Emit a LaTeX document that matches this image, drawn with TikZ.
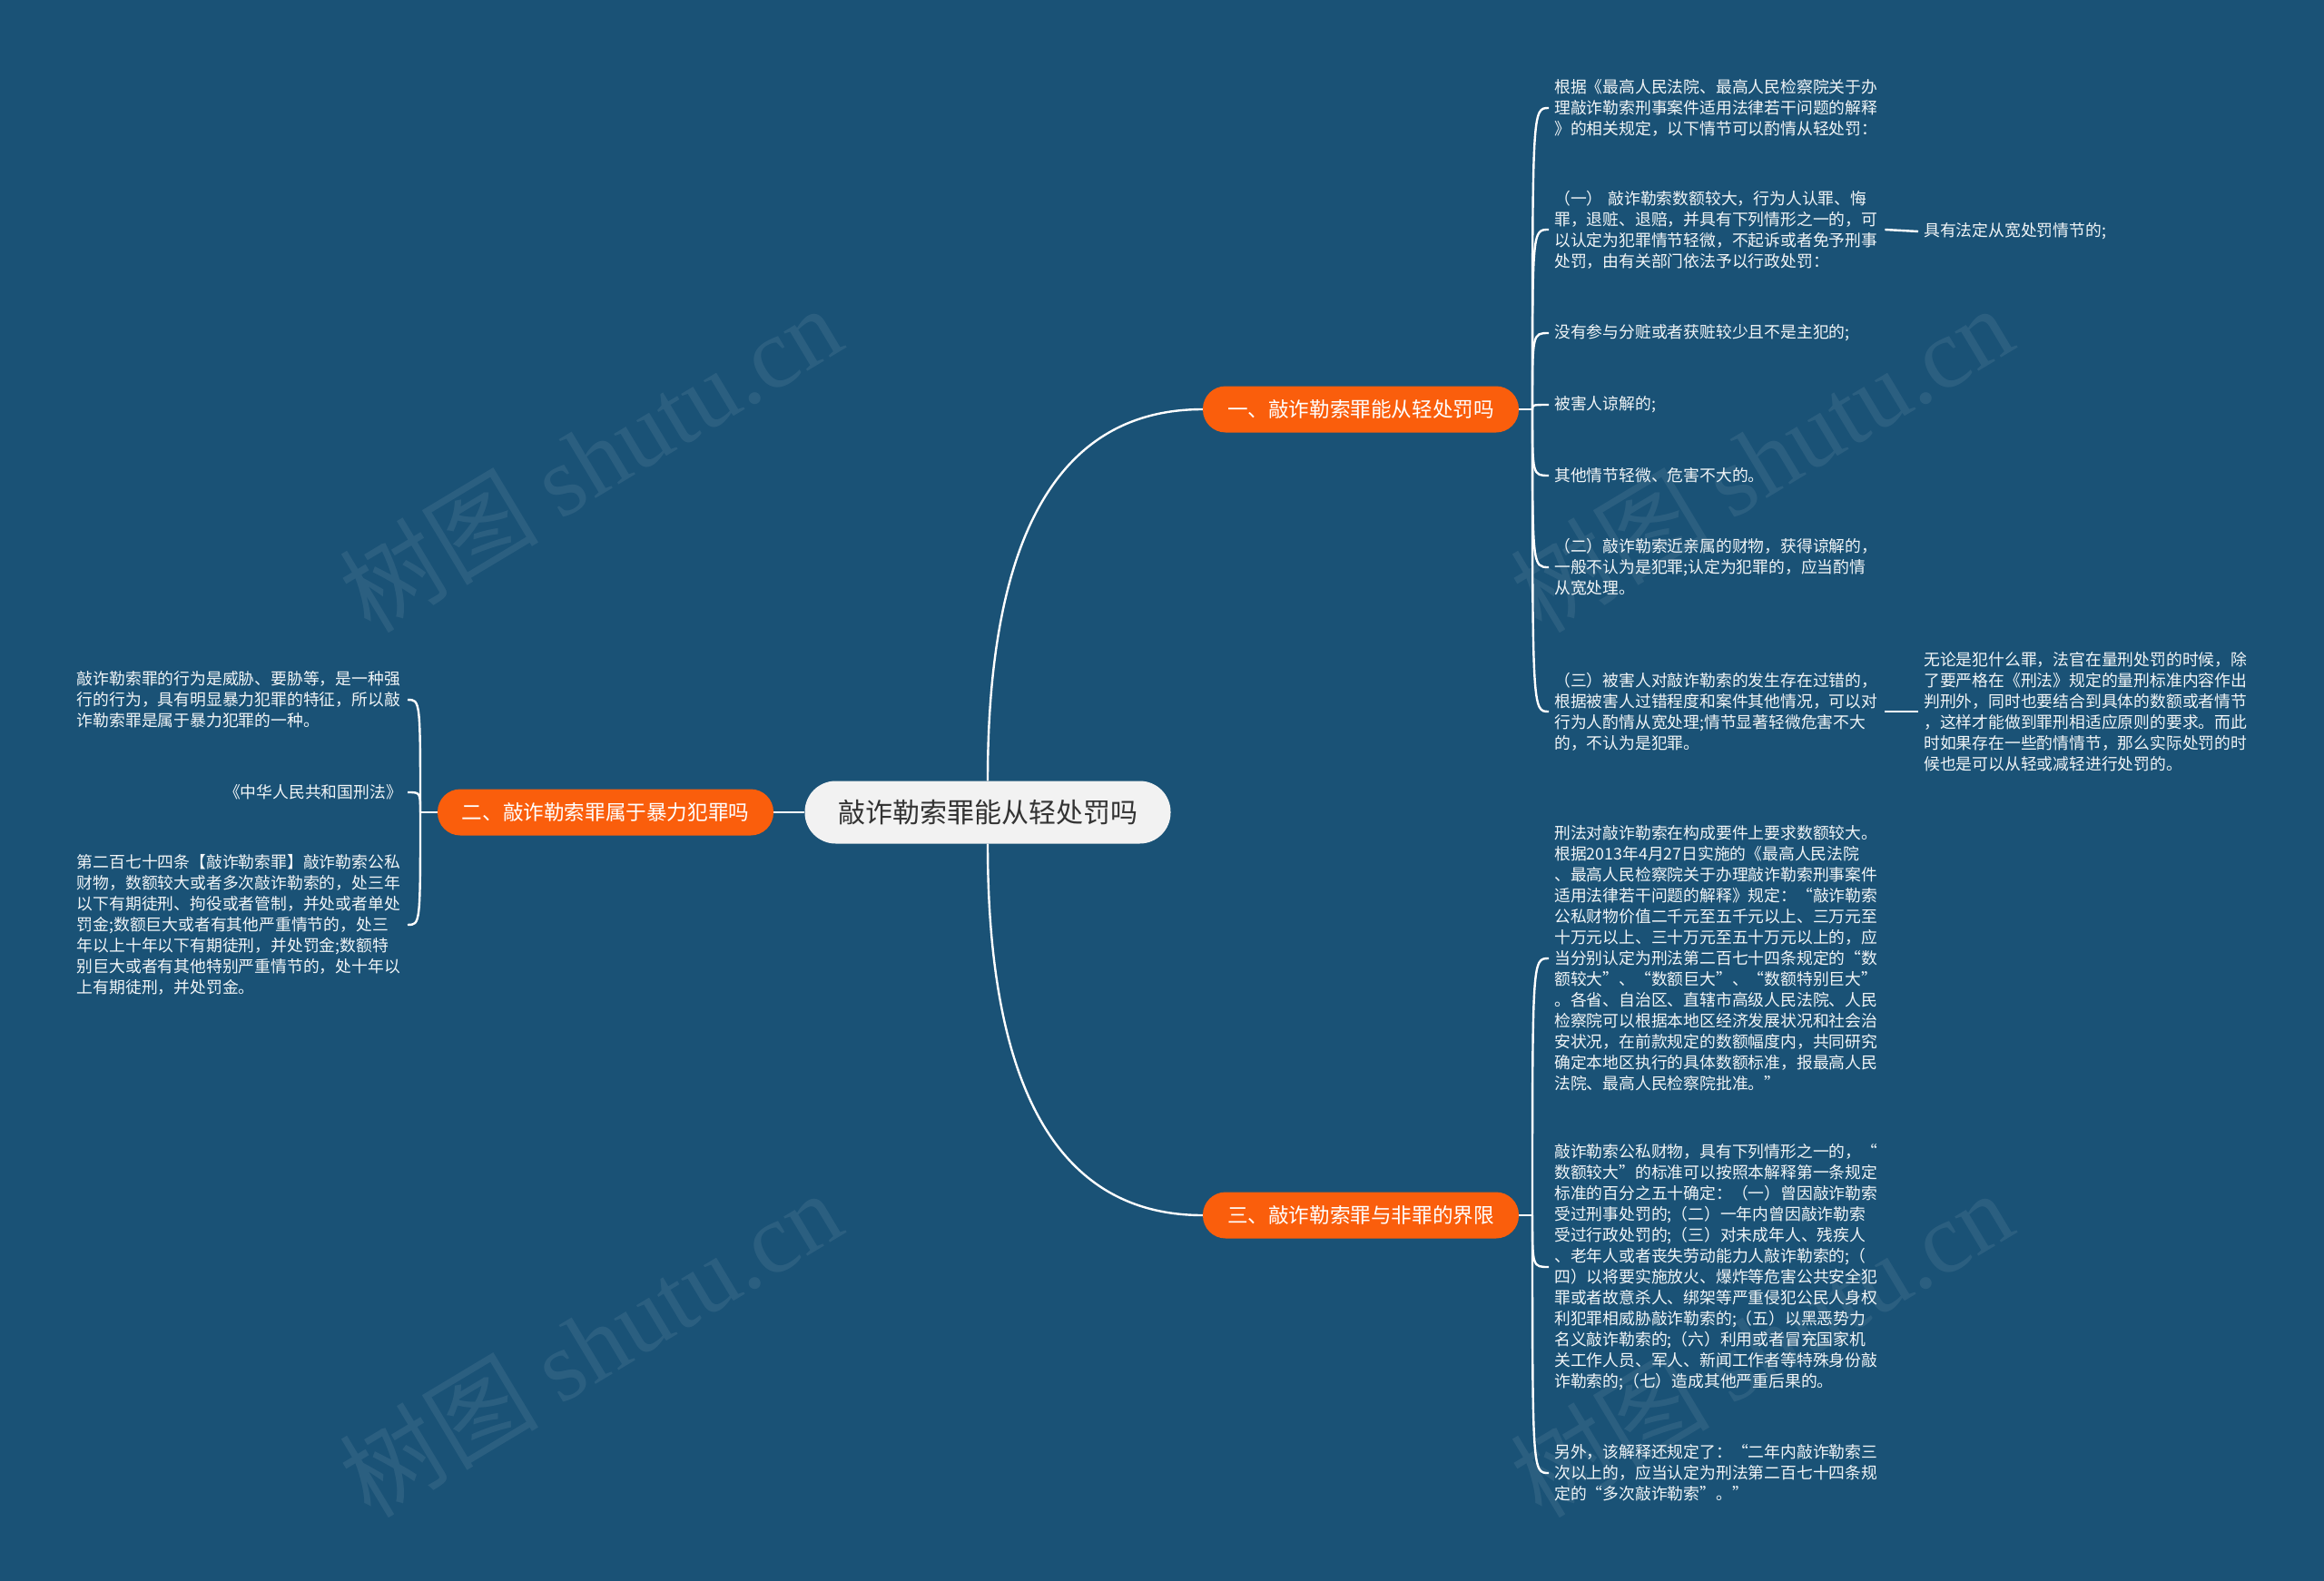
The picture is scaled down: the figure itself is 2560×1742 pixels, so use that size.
\documentclass[tikz,border=0pt]{standalone}
\usepackage{fontspec}
\setmainfont{Noto Sans CJK SC}
\newfontfamily\wmlatin{Liberation Serif}
\usepackage{xcolor}
\usetikzlibrary{positioning, calc}
\definecolor{mapBlue}{HTML}{1A5276}
\definecolor{mapOrange}{HTML}{FA5E0C}
\definecolor{mapRoot}{HTML}{F2F2F2}
\definecolor{mapDark}{HTML}{333333}
\newcommand{\leaffont}{\fontsize{17.8}{23}\selectfont}
\tikzset{
  rootbox/.style={rounded corners=34pt, fill=mapRoot, text=mapDark,
    minimum width=403pt, minimum height=69pt, inner sep=0pt,
    font=\fontsize{30}{34}\selectfont},
  branchbox/.style={rounded corners=25pt, fill=mapOrange, text=white,
    minimum width=348pt, minimum height=51pt, inner sep=0pt,
    font=\fontsize{22.6}{26}\selectfont},
  leafbox/.style={text=white!94!mapBlue, font=\leaffont, align=left,
    text width=358pt, inner xsep=6pt, inner ysep=2pt},
  shortleaf/.style={text=white!94!mapBlue, font=\leaffont,
    inner xsep=6pt, inner ysep=2pt},
  link/.style={draw=white, line width=2.4pt},
  watermark/.style={rotate=31, text=white, opacity=0.08,
    font=\fontsize{110}{110}\selectfont},
}

\begin{document}
\begin{tikzpicture}[x=1pt, y=-1pt]
  \fill[mapBlue] (0,0) rectangle (2560,1742);
  \useasboundingbox (0,0) rectangle (2560,1742);

  % watermarks
  \node[watermark] (wm1) at (650,505) {树图 {\wmlatin shutu.cn}};
  \node[watermark] (wm2) at (1940,505) {树图 {\wmlatin shutu.cn}};
  \node[watermark] (wm3) at (650,1480) {树图 {\wmlatin shutu.cn}};
  \node[watermark] (wm4) at (1940,1480) {树图 {\wmlatin shutu.cn}};

  % centre and main branches
  \node[rootbox] (root) at (1088,895) {敲诈勒索罪能从轻处罚吗};
  \node[branchbox] (b1) at (1499,451) {一、敲诈勒索罪能从轻处罚吗};
  \node[branchbox, minimum width=370pt] (b2) at (667,895) {二、敲诈勒索罪属于暴力犯罪吗};
  \node[branchbox] (b3) at (1499,1339) {三、敲诈勒索罪与非罪的界限};

  \coordinate (t1) at (1688,451);
  \coordinate (t2) at (463,895);
  \coordinate (t3) at (1688,1339);

  % branch one
  \node[leafbox, anchor=west] (l1) at (1706,119) {根据《最高人民法院、最高人民检察院关于办\\理敲诈勒索刑事案件适用法律若干问题的解释\\》的相关规定，以下情节可以酌情从轻处罚：};
  \node[leafbox, anchor=west] (l2) at (1706,253) {（一） 敲诈勒索数额较大，行为人认罪、悔\\罪，退赃、退赔，并具有下列情形之一的，可\\以认定为犯罪情节轻微，不起诉或者免予刑事\\处罚，由有关部门依法予以行政处罚：};
  \node[shortleaf, anchor=west] (s2) at (2113,255) {具有法定从宽处罚情节的;};
  \node[leafbox, anchor=west] (l3) at (1706,367) {没有参与分赃或者获赃较少且不是主犯的;};
  \node[leafbox, anchor=west] (l4) at (1706,446) {被害人谅解的;};
  \node[leafbox, anchor=west] (l5) at (1706,524) {其他情节轻微、危害不大的。};
  \node[leafbox, anchor=west] (l6) at (1706,625) {（二）敲诈勒索近亲属的财物，获得谅解的，\\一般不认为是犯罪;认定为犯罪的，应当酌情\\从宽处理。};
  \node[leafbox, anchor=west] (l7) at (1706,784) {（三）被害人对敲诈勒索的发生存在过错的，\\根据被害人过错程度和案件其他情况，可以对\\行为人酌情从宽处理;情节显著轻微危害不大\\的，不认为是犯罪。};
  \node[leafbox, anchor=west] (s7) at (2113,784) {无论是犯什么罪，法官在量刑处罚的时候，除\\了要严格在《刑法》规定的量刑标准内容作出\\判刑外，同时也要结合到具体的数额或者情节\\，这样才能做到罪刑相适应原则的要求。而此\\时如果存在一些酌情情节，那么实际处罚的时\\候也是可以从轻或减轻进行处罚的。};

  % branch two
  \node[leafbox, anchor=east] (a1) at (449,771) {敲诈勒索罪的行为是威胁、要胁等，是一种强\\行的行为，具有明显暴力犯罪的特征，所以敲\\诈勒索罪是属于暴力犯罪的一种。};
  \node[shortleaf, anchor=east] (a2) at (449,873) {《中华人民共和国刑法》};
  \node[leafbox, anchor=east] (a3) at (449,1019) {第二百七十四条【敲诈勒索罪】敲诈勒索公私\\财物，数额较大或者多次敲诈勒索的，处三年\\以下有期徒刑、拘役或者管制，并处或者单处\\罚金;数额巨大或者有其他严重情节的，处三\\年以上十年以下有期徒刑，并处罚金;数额特\\别巨大或者有其他特别严重情节的，处十年以\\上有期徒刑，并处罚金。};

  % branch three
  \node[leafbox, anchor=west] (m1) at (1706,1056) {刑法对敲诈勒索在构成要件上要求数额较大。\\根据2013年4月27日实施的《最高人民法院\\、最高人民检察院关于办理敲诈勒索刑事案件\\适用法律若干问题的解释》规定：“敲诈勒索\\公私财物价值二千元至五千元以上、三万元至\\十万元以上、三十万元至五十万元以上的，应\\当分别认定为刑法第二百七十四条规定的“数\\额较大”、“数额巨大”、“数额特别巨大”\\。各省、自治区、直辖市高级人民法院、人民\\检察院可以根据本地区经济发展状况和社会治\\安状况，在前款规定的数额幅度内，共同研究\\确定本地区执行的具体数额标准，报最高人民\\法院、最高人民检察院批准。”};
  \node[leafbox, anchor=west] (m2) at (1706,1396) {敲诈勒索公私财物，具有下列情形之一的，“\\数额较大”的标准可以按照本解释第一条规定\\标准的百分之五十确定：（一）曾因敲诈勒索\\受过刑事处罚的;（二）一年内曾因敲诈勒索\\受过行政处罚的;（三）对未成年人、残疾人\\、老年人或者丧失劳动能力人敲诈勒索的;（\\四）以将要实施放火、爆炸等危害公共安全犯\\罪或者故意杀人、绑架等严重侵犯公民人身权\\利犯罪相威胁敲诈勒索的;（五）以黑恶势力\\名义敲诈勒索的;（六）利用或者冒充国家机\\关工作人员、军人、新闻工作者等特殊身份敲\\诈勒索的;（七）造成其他严重后果的。};
  \node[leafbox, anchor=west] (m3) at (1706,1623) {另外，该解释还规定了：“二年内敲诈勒索三\\次以上的，应当认定为刑法第二百七十四条规\\定的“多次敲诈勒索”。”};

  % connectors
  \draw[link] (root.north) .. controls +(0,-240) and +(-175,0) .. (b1.west);
  \draw[link] (root.south) .. controls +(0,240) and +(-175,0) .. (b3.west);
  \draw[link] (root.west) -- (b2.east);

  \draw[link] (b1.east) -- (t1);
  \foreach \leaf in {l1,l2,l3,l4,l5,l6,l7}
    \draw[link] (t1) .. controls (t1 |- \leaf.west) .. (\leaf.west);
  \draw[link] (l2.east) -- (s2.west);
  \draw[link] (l7.east) -- (s7.west);

  \draw[link] (b2.west) -- (t2);
  \foreach \leaf in {a1,a2,a3}
    \draw[link] (t2) .. controls (t2 |- \leaf.east) .. (\leaf.east);

  \draw[link] (b3.east) -- (t3);
  \foreach \leaf in {m1,m2,m3}
    \draw[link] (t3) .. controls (t3 |- \leaf.west) .. (\leaf.west);
\end{tikzpicture}
\end{document}
